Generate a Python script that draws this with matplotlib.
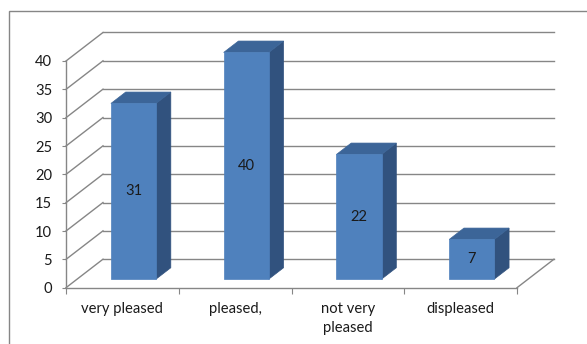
import matplotlib
matplotlib.use("Agg")
import matplotlib.pyplot as plt
from matplotlib.patches import Polygon, Rectangle

# survey answers
categories = ["very pleased", "pleased,", "not very\npleased", "displeased"]
counts = [31, 40, 22, 7]
y_ticks = [0, 5, 10, 15, 20, 25, 30, 35, 40]

# oblique 3d look: depth 0 is the front plane, depth 1 the back wall
DX = 0.328   # category units per unit depth
DY = 5.03    # value units per unit depth
BAR_W = 0.4
BAR_D0, BAR_D1 = 0.3, 0.7

GRID = "#868686"
FRONT = "#4F81BD"
TOP = "#3C6598"
SIDE = "#31527E"
FS = 10.6

plt.rcParams["font.family"] = ["Lato", "DejaVu Sans"]


def proj(x, v, d):
    return x + DX * d, v + DY * d


W, H = 587, 344
fig = plt.figure(figsize=(W / 100, H / 100), dpi=100)
ax = fig.add_axes([66 / W, 1 - 287.7 / H, (517 - 66) / W, (287.7 - 61) / H])
ax.set_xlim(0, len(categories))
ax.set_ylim(0, 40)

# frame around the chart area (runs off the right and bottom edge)
fig.add_artist(Rectangle((9 / W, -0.2), 1.2, 1 - 10.5 / H + 0.2,
                         transform=fig.transFigure, fill=False,
                         edgecolor=GRID, lw=1.0))

# back wall gridlines and side wall diagonals
n = len(categories)
for v in y_ticks:
    x0, y0 = proj(0, v, 1)
    x1, y1 = proj(n, v, 1)
    ax.plot([x0, x1], [y0, y1], color=GRID, lw=1.0, clip_on=False, zorder=1)
    ax.plot([0, x0], [v, y0], color=GRID, lw=1.0, clip_on=False, zorder=1)
fx, fy = proj(n, 0, 1)
ax.plot([n, fx], [0, fy], color=GRID, lw=1.0, clip_on=False, zorder=1)

# bars
for i, v in enumerate(counts):
    xa = i + (1 - BAR_W) / 2
    xb = xa + BAR_W
    front = [proj(xa, 0, BAR_D0), proj(xb, 0, BAR_D0),
             proj(xb, v, BAR_D0), proj(xa, v, BAR_D0)]
    side = [proj(xb, 0, BAR_D0), proj(xb, 0, BAR_D1),
            proj(xb, v, BAR_D1), proj(xb, v, BAR_D0)]
    top = [proj(xa, v, BAR_D0), proj(xb, v, BAR_D0),
           proj(xb, v, BAR_D1), proj(xa, v, BAR_D1)]
    for pts, c in ((side, SIDE), (top, TOP), (front, FRONT)):
        ax.add_patch(Polygon(pts, closed=True, facecolor=c,
                             edgecolor=c, lw=0.5, clip_on=False, zorder=3))
    lx, ly = proj((xa + xb) / 2, v / 2, BAR_D0)
    ax.text(lx, ly, str(v), ha="center", va="center", fontsize=FS,
            color="#1a1a1a", zorder=4)

# axes
for s in ("top", "right"):
    ax.spines[s].set_visible(False)
for s in ("left", "bottom"):
    ax.spines[s].set_color(GRID)
    ax.spines[s].set_linewidth(1.0)
    ax.spines[s].set_zorder(2)

ax.set_yticks(y_ticks)
ax.set_yticklabels([str(t) for t in y_ticks])
ax.tick_params(axis="y", length=3, color=GRID, pad=7, labelsize=FS,
               labelcolor="#1a1a1a")

ax.set_xticks(range(n + 1))
ax.set_xticklabels([])
ax.set_xticks([i + 0.5 for i in range(n)], minor=True)
ax.set_xticklabels(categories, minor=True, linespacing=1.5)
ax.tick_params(axis="x", which="major", length=4, color=GRID)
ax.tick_params(axis="x", which="minor", length=0, pad=10, labelsize=FS,
               labelcolor="#1a1a1a")

fig.savefig("out.png", dpi=100)
